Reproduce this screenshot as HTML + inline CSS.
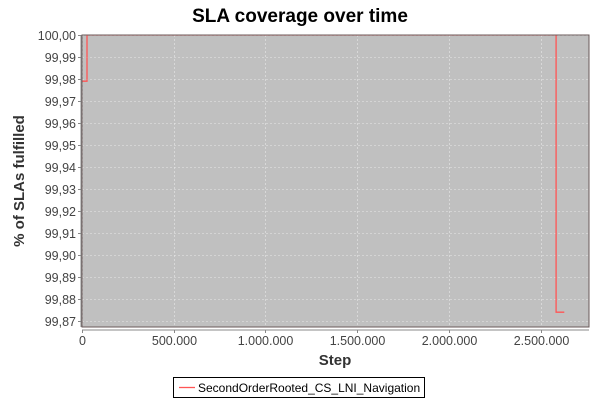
<!DOCTYPE html>
<html><head><meta charset="utf-8"><style>
body{margin:0;background:#fff;font-family:"Liberation Sans",sans-serif}
</style></head><body>
<svg width="600" height="400" xmlns="http://www.w3.org/2000/svg" id="svg">
<defs><clipPath id="cp"><rect x="82" y="35" width="507" height="292"/></clipPath></defs>
<rect width="600" height="400" fill="#fff"/>
<text x="300" y="22" text-anchor="middle" font-size="19" font-weight="bold" fill="#000">SLA coverage over time</text>
<rect x="82" y="35" width="507" height="292" fill="#c0c0c0"/>
<g id="grid"></g>
<g id="yaxis"></g>
<g id="xaxis"></g>
<path id="series" fill="none" stroke="#ff5555" stroke-width="1.3" clip-path="url(#cp)"/>
<rect x="82" y="35" width="507" height="292" fill="none" stroke="#6a5a5a" stroke-width="1"/>
<text transform="translate(24,181) rotate(-90)" text-anchor="middle" font-size="15" font-weight="bold" fill="#333">% of SLAs fulfilled</text>
<text x="335" y="365" text-anchor="middle" font-size="15" font-weight="bold" fill="#333">Step</text>
<g>
<rect x="173.5" y="377.5" width="251" height="20" fill="#fff" stroke="#000"/>
<line x1="179" y1="387.5" x2="195" y2="387.5" stroke="#ff5555" stroke-width="1.3"/>
<text x="198" y="392" font-size="12" fill="#000">SecondOrderRooted_CS_LNI_Navigation</text>
</g>
</svg>
<script>
const xs=[0,27000,27000,2585000,2585000,2630000];
const ys=[99.979,99.979,100.0,100.0,99.874,99.874];
const yTicks=[99.87,99.88,99.89,99.90,99.91,99.92,99.93,99.94,99.95,99.96,99.97,99.98,99.99,100.00];
const xTicks=[0,500000,1000000,1500000,2000000,2500000];
const L=82,R=589,T=35,B=327;
const X=v=>L+v*(540.5-82)/2500000;
const Y=v=>T+(100-v)*2200;
const NS='http://www.w3.org/2000/svg';
function mk(t,a,p){const e=document.createElementNS(NS,t);for(const k in a)e.setAttribute(k,a[k]);document.getElementById(p).appendChild(e);return e;}
const fmtY=v=>v.toFixed(2).replace('.',',');
const fmtX=v=>String(v).replace(/\B(?=(\d{3})+(?!\d))/g,'.');
yTicks.forEach(v=>{const y=Math.round(Y(v))+0.5;
 const g=mk('line',{x1:L,x2:R,y1:y,y2:y,stroke:'#e8e8e8','stroke-dasharray':'2,2','stroke-width':0.6},'grid');
 
 
 const tk=mk('line',{x1:L-4,x2:L-1,y1:y,y2:y,stroke:'#888'},'yaxis');
 
 
 const t=mk('text',{x:L-6,y:y+4.5,'text-anchor':'end','font-size':12.5,fill:'#444'},'yaxis');t.textContent=fmtY(v);
 
 });
xTicks.forEach(v=>{const x=Math.round(X(v))+0.5;
 const g=mk('line',{x1:x,x2:x,y1:T,y2:B,stroke:'#e8e8e8','stroke-dasharray':'2,2','stroke-width':0.6},'grid');
 
 
 const tk=mk('line',{x1:x,x2:x,y1:B+3,y2:B+6,stroke:'#888'},'xaxis');
 
 
 const t=mk('text',{x:x,y:B+18,'text-anchor':'middle','font-size':12.5,fill:'#444'},'xaxis');t.textContent=fmtX(v);
 
 });
const al=mk('line',{x1:L-1,x2:L-1,y1:T,y2:B,stroke:'#888'},'yaxis');


const xl=mk('line',{x1:L,x2:R,y1:B+3,y2:B+3,stroke:'#888'},'xaxis');


document.getElementById('series').setAttribute('d',xs.map((v,i)=>(i?'L':'M')+X(v).toFixed(1)+','+Y(ys[i]).toFixed(1)).join(' '));
</script>
</body></html>
